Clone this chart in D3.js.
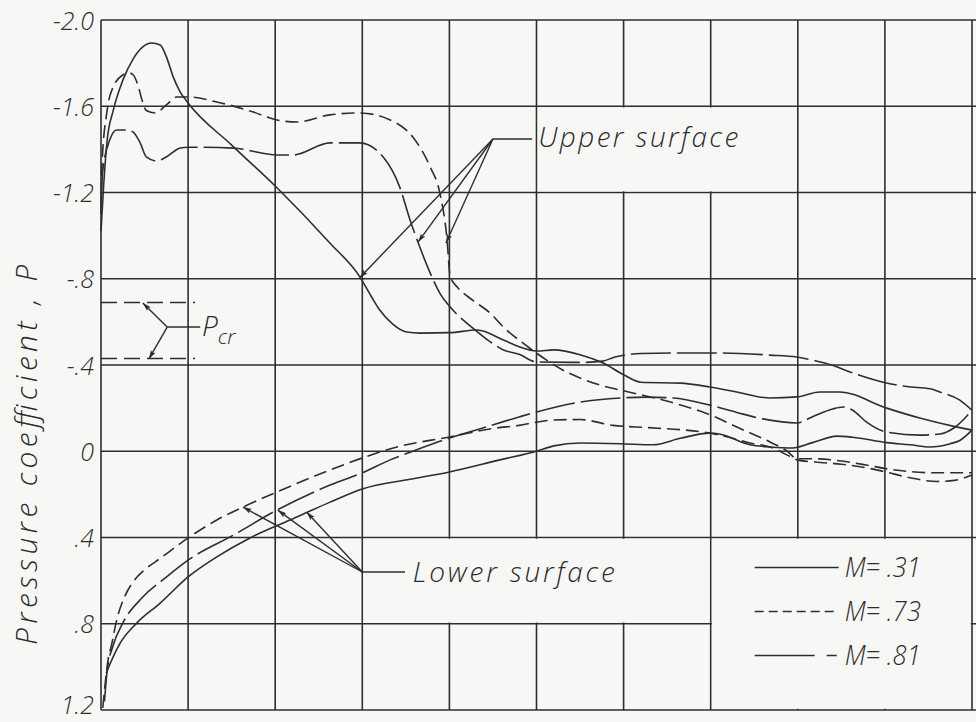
<!DOCTYPE html>
<html>
<head>
<meta charset="utf-8">
<script src="https://cdn.jsdelivr.net/npm/d3@7"></script>
<style>
  html, body { margin: 0; padding: 0; background: #f7f7f5; }
  svg { display: block; }
  text { font-family: "Open Sans", "DejaVu Sans", sans-serif; font-style: italic; font-weight: 300; fill: #2b2b2b; }
</style>
</head>
<body>
<svg id="chart" width="976" height="722"></svg>
<script>
// Grid: chordwise stations (percent chord) and pressure-coefficient ticks
const chordGrid = [0, 10, 20, 30, 40, 50, 60, 70, 80, 90, 100];
const pTicks = [-2.0, -1.6, -1.2, -0.8, -0.4, 0, 0.4, 0.8, 1.2];
const pTickLabels = ["-2.0", "-1.6", "-1.2", "-.8", "-.4", "0", ".4", ".8", "1.2"];

// Critical pressure coefficients
const pCritical = [-0.69, -0.43];

// Mach numbers shown in the key
const machLabels = ["M= .31", "M= .73", "M= .81"];

// Upper-surface pressure distributions [percent chord, P]
const upperM31 = [[0,-1.02],[0.3,-1.23],[0.7,-1.44],[1.4,-1.58],[2.5,-1.72],[3.7,-1.82],[4.8,-1.875],[5.8,-1.893],[6.8,-1.884],[7.5,-1.83],[8.3,-1.735],[9.1,-1.666],[10,-1.615],[15,-1.42],[20,-1.23],[26.3,-0.965],[29.7,-0.81],[31,-0.72],[32,-0.655],[33.5,-0.59],[35.1,-0.553],[36.6,-0.548],[40,-0.55],[43.2,-0.562],[46.2,-0.516],[48,-0.485],[50,-0.465],[52,-0.47],[55,-0.448],[57.6,-0.41],[60,-0.355],[62,-0.32],[66.5,-0.316],[69.9,-0.298],[73,-0.275],[76.8,-0.247],[79.9,-0.252],[82.5,-0.275],[84.8,-0.275],[90.2,-0.20],[94,-0.154],[98.3,-0.112],[100,-0.098]];
const upperM73 = [[0,-1.10],[0.1,-1.32],[0.7,-1.58],[1.4,-1.69],[2.5,-1.745],[3.2,-1.755],[3.7,-1.745],[4.3,-1.69],[4.7,-1.63],[5.2,-1.58],[6.2,-1.569],[7.5,-1.606],[8.7,-1.643],[10,-1.643],[13.3,-1.62],[17.5,-1.573],[20.2,-1.536],[22.5,-1.527],[26.3,-1.56],[29.7,-1.569],[33.2,-1.536],[35.8,-1.457],[37.8,-1.318],[38.9,-1.198],[39.7,-0.994],[40.1,-0.81],[40.9,-0.762],[42.7,-0.70],[44.7,-0.64],[46.2,-0.576],[48.5,-0.50],[50,-0.455],[51.5,-0.414],[53,-0.377],[55,-0.34],[57.3,-0.307],[59.6,-0.284],[62.2,-0.26],[64.5,-0.238],[66.1,-0.22],[70.3,-0.163],[73,-0.112],[76.8,-0.043],[78.8,0.0],[79.9,0.035],[82,0.035],[85,0.045],[88,0.065],[90,0.08],[93,0.095],[96,0.10],[100,0.10]];
const upperM81 = [[0,-1.15],[0.2,-1.30],[1.0,-1.443],[1.8,-1.49],[3.0,-1.49],[3.7,-1.48],[4.5,-1.43],[5.2,-1.365],[6.4,-1.346],[7.5,-1.365],[9.1,-1.406],[10,-1.41],[15.2,-1.406],[20.2,-1.374],[22,-1.374],[26.3,-1.43],[29.7,-1.43],[32.4,-1.365],[34.3,-1.225],[35.5,-1.07],[36.6,-0.947],[37.8,-0.826],[38.9,-0.733],[40.4,-0.655],[42.7,-0.571],[44.7,-0.507],[46.2,-0.47],[48,-0.45],[50,-0.414],[55,-0.412],[57.6,-0.418],[59,-0.437],[62,-0.453],[66.5,-0.456],[71,-0.456],[76.8,-0.446],[79.9,-0.437],[82,-0.42],[83.9,-0.40],[86.3,-0.363],[89.8,-0.32],[92.5,-0.30],[95.2,-0.29],[96.3,-0.275],[98.6,-0.237],[100,-0.19]];

// Lower-surface pressure distributions [percent chord, P]
const lowerM31 = [[0.6,1.03],[1.0,0.99],[2.2,0.89],[4.1,0.797],[6.8,0.704],[10,0.583],[13.3,0.49],[17.1,0.402],[21.7,0.319],[26.3,0.236],[30,0.175],[35.5,0.13],[40,0.096],[45.8,0.04],[50,0.0],[52,-0.025],[55,-0.038],[59.6,-0.035],[63.4,-0.03],[66.5,-0.06],[69.9,-0.084],[71,-0.08],[74.5,-0.03],[76.8,-0.02],[79.4,-0.015],[81.7,-0.04],[84.5,-0.07],[86.3,-0.065],[90.2,-0.04],[92.9,-0.03],[95.2,-0.02],[97.5,-0.035],[98.6,-0.05],[100,-0.098]];
const lowerM73 = [[0.2,1.19],[0.5,1.07],[0.8,0.97],[1.2,0.90],[1.8,0.783],[2.8,0.667],[3.7,0.605],[5,0.55],[6.8,0.497],[10,0.402],[13.3,0.319],[16.3,0.259],[20.2,0.189],[26.3,0.087],[30,0.031],[34,-0.02],[40,-0.066],[45.2,-0.107],[48,-0.12],[50,-0.135],[52,-0.145],[55,-0.147],[58.8,-0.12],[62.7,-0.11],[66.5,-0.10],[69,-0.09],[72,-0.066],[74.5,-0.038],[76.8,-0.02],[78.8,0.018],[79.9,0.04],[82,0.05],[85,0.06],[88,0.078],[90,0.095],[92.5,0.12],[96,0.14],[98,0.135],[100,0.11]];
const lowerM81 = [[0.4,1.16],[0.7,1.02],[1.4,0.90],[2.5,0.797],[4.8,0.676],[7.3,0.59],[10,0.505],[15.2,0.389],[20.2,0.273],[26.3,0.157],[30,0.10],[33.2,0.04],[35.8,0.0],[40,-0.061],[44,-0.11],[48,-0.159],[50,-0.182],[55,-0.228],[59.6,-0.247],[62.7,-0.251],[65.7,-0.247],[69.9,-0.214],[73,-0.18],[76,-0.15],[79.9,-0.131],[81.7,-0.16],[84,-0.196],[85.2,-0.205],[86.3,-0.19],[87.9,-0.135],[90.2,-0.089],[94,-0.075],[96.3,-0.08],[98,-0.11],[100,-0.19]];

const INK = "#2e2e2e";
const PAPER = "#f7f7f5";

const svg = d3.select("#chart");
svg.append("rect").attr("width", 976).attr("height", 722).attr("fill", PAPER);

const x = d3.scaleLinear().domain([0, 100]).range([101, 972]);
const y = d3.scaleLinear().domain([-2.0, 1.2]).range([20, 710]);

// arrowhead marker
svg.append("defs").append("marker")
  .attr("id", "arrow").attr("viewBox", "0 -4 10 8")
  .attr("refX", 10).attr("refY", 0)
  .attr("markerWidth", 9).attr("markerHeight", 7)
  .attr("markerUnits", "userSpaceOnUse")
  .attr("orient", "auto")
  .append("path").attr("d", "M0,-3L10,0L0,3L2,0Z").attr("fill", INK);

// grid
const grid = svg.append("g").attr("stroke", INK).attr("stroke-width", 1.6);
grid.selectAll("line.h").data(pTicks).join("line")
  .attr("x1", x(0)).attr("x2", 976)
  .attr("y1", d => y(d)).attr("y2", d => y(d));
grid.selectAll("line.v").data(chordGrid).join("line")
  .attr("x1", d => x(d)).attr("x2", d => x(d))
  .attr("y1", y(-2.0)).attr("y2", y(1.2));

// merged cells for the notes and the key
const blanks = [
  { c0: 50, c1: 80, p0: -1.6, p1: -1.2 },
  { c0: 30, c1: 70, p0: 0.4, p1: 0.8 },
  { c0: 70, c1: 100, p0: 0.4, p1: 1.2 }
];
svg.append("g").selectAll("rect").data(blanks).join("rect")
  .attr("x", d => x(d.c0) + 1.2).attr("y", d => y(d.p0) + 1.2)
  .attr("width", d => x(d.c1) - x(d.c0) - 2.4)
  .attr("height", d => y(d.p1) - y(d.p0) - 2.4)
  .attr("fill", PAPER);

// y axis labels
const yAxis = d3.axisLeft(y).tickValues(pTicks)
  .tickFormat((d, i) => pTickLabels[i]).tickSize(0).tickPadding(0);
const ga = svg.append("g").attr("transform", `translate(${x(0) - 7},0)`).call(yAxis);
ga.select(".domain").remove();
ga.selectAll("text")
  .attr("font-family", null).attr("font-size", 25)
  .attr("dy", d => d === 1.2 ? "0.12em" : "0.36em").style("fill", INK);

// axis title
svg.append("text")
  .attr("transform", `translate(37,${455}) rotate(-90)`)
  .attr("text-anchor", "middle")
  .attr("font-size", 30)
  .attr("textLength", 380).attr("lengthAdjust", "spacing")
  .text("Pressure  coefficient , P");

// pressure curves
const line = d3.line().x(d => x(d[0])).y(d => y(d[1])).curve(d3.curveMonotoneX);
const dashFor = { m31: null, m73: "13,6", m81: "40,6" };
const curves = [
  { data: upperM31, key: "m31" }, { data: upperM73, key: "m73" }, { data: upperM81, key: "m81" },
  { data: lowerM31, key: "m31" }, { data: lowerM73, key: "m73" }, { data: lowerM81, key: "m81" }
];
svg.append("g").selectAll("path").data(curves).join("path")
  .attr("d", d => line(d.data))
  .attr("fill", "none").attr("stroke", INK).attr("stroke-width", 1.6)
  .attr("stroke-linejoin", "round")
  .attr("stroke-dasharray", d => dashFor[d.key]);

// critical pressure coefficient lines
const notes = svg.append("g").attr("stroke", INK).attr("stroke-width", 1.4).attr("fill", "none");
notes.selectAll("line.pcr").data(pCritical).join("line")
  .attr("x1", x(0)).attr("x2", x(10.8))
  .attr("y1", d => y(d)).attr("y2", d => y(d))
  .attr("stroke-dasharray", "16,7");

const pcrHub = [7.6, -0.576];
notes.append("line").attr("x1", x(pcrHub[0])).attr("y1", y(pcrHub[1]))
  .attr("x2", x(11.4)).attr("y2", y(pcrHub[1]));
[[4.8, -0.687], [5.5, -0.428]].forEach(t => {
  notes.append("line").attr("x1", x(pcrHub[0])).attr("y1", y(pcrHub[1]))
    .attr("x2", x(t[0])).attr("y2", y(t[1])).attr("marker-end", "url(#arrow)");
});
svg.append("text").attr("x", x(11.6)).attr("y", y(pcrHub[1]) + 9)
  .attr("font-size", 28).text("P")
  .append("tspan").attr("font-size", 21).attr("dx", 0).attr("dy", 8).text("cr");

// upper surface leader
const upHub = [45.0, -1.448];
notes.append("line").attr("x1", x(upHub[0])).attr("y1", y(upHub[1]))
  .attr("x2", x(49.5)).attr("y2", y(upHub[1]));
[[29.7, -0.805], [36.4, -0.97], [39.6, -0.966]].forEach(t => {
  notes.append("line").attr("x1", x(upHub[0])).attr("y1", y(upHub[1]))
    .attr("x2", x(t[0])).attr("y2", y(t[1])).attr("marker-end", "url(#arrow)");
});
svg.append("text").attr("x", x(50.2)).attr("y", y(upHub[1]) + 8)
  .attr("font-size", 28).attr("textLength", 200).attr("lengthAdjust", "spacing")
  .text("Upper surface");

// lower surface leader
const lowHub = [30.0, 0.56];
notes.append("line").attr("x1", x(lowHub[0])).attr("y1", y(lowHub[1]))
  .attr("x2", x(34.9)).attr("y2", y(lowHub[1]));
[[16.3, 0.259], [20.3, 0.273], [23.6, 0.282]].forEach(t => {
  notes.append("line").attr("x1", x(lowHub[0])).attr("y1", y(lowHub[1]))
    .attr("x2", x(t[0])).attr("y2", y(t[1])).attr("marker-end", "url(#arrow)");
});
svg.append("text").attr("x", x(35.8)).attr("y", y(lowHub[1]) + 10)
  .attr("font-size", 28).attr("textLength", 202).attr("lengthAdjust", "spacing")
  .text("Lower surface");

// key
const keyX0 = x(70) + 44, keyY0 = y(0.4) + 30, keyStep = 44;
const keyDash = ["none", "9,5", "60,12,10,200"];
const key = svg.append("g");
machLabels.forEach((lab, i) => {
  key.append("line")
    .attr("x1", keyX0).attr("x2", keyX0 + 84)
    .attr("y1", keyY0 + i * keyStep).attr("y2", keyY0 + i * keyStep)
    .attr("stroke", INK).attr("stroke-width", 1.5)
    .attr("stroke-dasharray", keyDash[i]);
  key.append("text")
    .attr("x", keyX0 + 90).attr("y", keyY0 + i * keyStep + 9)
    .attr("font-size", 27).attr("textLength", 76).attr("lengthAdjust", "spacingAndGlyphs")
    .text(lab);
});
</script>
</body>
</html>
